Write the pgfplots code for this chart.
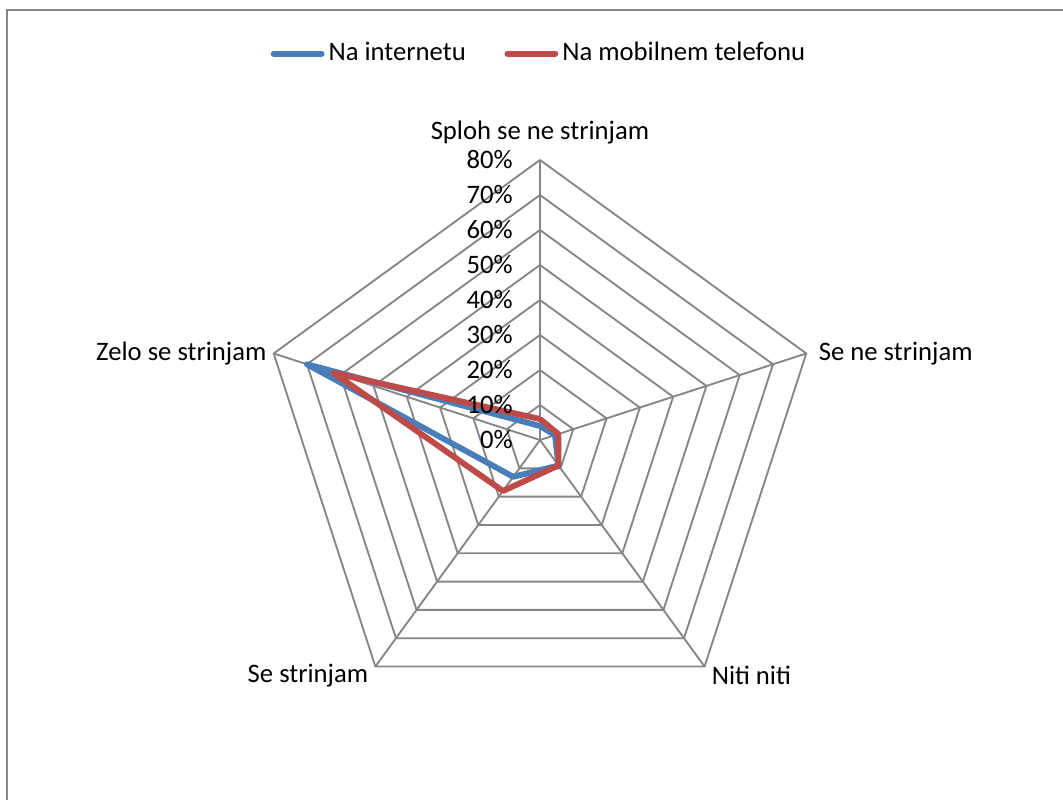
\documentclass[border=0pt]{standalone}
\usepackage{pgfplots}
\pgfplotsset{compat=1.18}
\usepgfplotslibrary{polar}
\usepackage{fontspec}
\setmainfont{Carlito}
\definecolor{serblue}{HTML}{4A7EBB}
\definecolor{serred}{HTML}{BE4B48}
\definecolor{gridgray}{HTML}{868686}
\begin{document}
\begin{tikzpicture}[x=0.375pt,y=0.375pt]
\fontsize{10}{12}\selectfont
\useasboundingbox (-540,-360) rectangle (523,440);
\draw[gridgray,line width=0.8pt] (-533,-400) -- (-533,430) -- (560,430);
\begin{polaraxis}[
  at={(0,0)}, anchor=center,
  scale only axis, width=210pt, height=210pt,
  xmin=0, xmax=360, ymin=0, ymax=80,
  hide axis,
  clip=false,
  legend columns=2,
  legend style={draw=none, fill=none, at={(0.5,1.19)}, anchor=center,
    font=\fontsize{10}{12}\selectfont,
    inner sep=0pt,
    nodes={inner sep=1.5pt},
    /tikz/every even column/.append style={column sep=13pt}},
  legend image code/.code={\draw[#1,line width=2.2pt,line cap=round] (0pt,0pt) -- (18pt,0pt);},
]
\pgfplotsinvokeforeach{10,20,30,40,50,60,70,80}{
  \addplot[gridgray,line width=0.7pt,forget plot] coordinates {(90,#1) (18,#1) (-54,#1) (-126,#1) (162,#1) (90,#1)};
}
\pgfplotsinvokeforeach{90,18,-54,-126,162}{
  \addplot[gridgray,line width=0.7pt,forget plot] coordinates {(#1,0) (#1,80)};
}
\addplot[serblue,line width=2.2pt,line join=round] coordinates {(90,4) (18,4.5) (-54,9) (-126,13) (162,70) (90,4)};
\addlegendentry{Na internetu}
\addplot[serred,line width=2.2pt,line join=round] coordinates {(90,6) (18,5.5) (-54,9) (-126,18) (162,62) (90,6)};
\addlegendentry{Na mobilnem telefonu}
\pgfplotsinvokeforeach{0,10,20,30,40,50,60,70,80}{
  \node[anchor=east,inner sep=0pt,xshift=-10pt] at (axis cs:90,#1) {#1\%};
}
\node[anchor=base,inner sep=0pt,yshift=7.5pt] at (axis cs:90,80) {Sploh se ne strinjam};
\node[anchor=west,inner sep=0pt,xshift=4.5pt] at (axis cs:18,80) {Se ne strinjam};
\node[anchor=west,inner sep=0pt,xshift=2.5pt,yshift=-3.5pt] at (axis cs:-54,80) {Niti niti};
\node[anchor=east,inner sep=0pt,xshift=-2.5pt,yshift=-3.5pt] at (axis cs:-126,80) {Se strinjam};
\node[anchor=east,inner sep=0pt,xshift=-2.5pt] at (axis cs:162,80) {Zelo se strinjam};
\end{polaraxis}
\end{tikzpicture}
\end{document}
